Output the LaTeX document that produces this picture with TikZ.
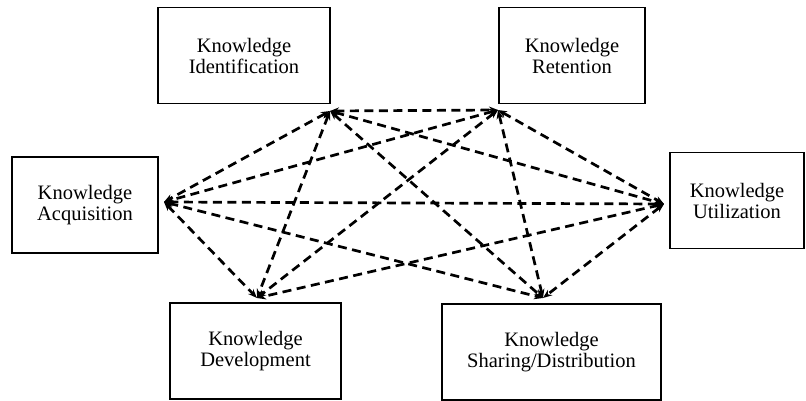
\documentclass[tikz,border=0pt]{standalone}
\usepackage{fontspec}
\setmainfont{Liberation Serif}
\usepackage{tikz}
\usetikzlibrary{arrows.meta}

\begin{document}
\begin{tikzpicture}[
		x=1pt, y=-1pt,
		box/.style={
			draw,
			line width=1.8pt,
			inner sep=0pt,
			minimum height=96pt,
			align=center,
			font=\fontsize{20.5}{21}\selectfont
		},
		arrow/.style={{Stealth[length=9pt,width=7pt]}-{Stealth[length=9pt,width=7pt]}, line width=2.7pt, dash pattern=on 9pt off 5.5pt}
		]
		
		\useasboundingbox (0,0) rectangle (806,401);
		
		\node[box, minimum width=172pt] (ident) at (244,55.5) {Knowledge\\Identification};
		\node[box, minimum width=146pt] (ret) at (572,55.5) {Knowledge\\Retention};
		\node[box, minimum width=146pt] (acq) at (85,205) {Knowledge\\Acquisition};
		\node[box, minimum width=134pt] (util) at (737,200.5) {Knowledge\\Utilization};
		\node[box, minimum width=171pt] (dev) at (255.5,351) {Knowledge\\Development};
		\node[box, minimum width=219pt] (share) at (551.5,352) {Knowledge\\Sharing/Distribution};
		
		% meeting points of the arrows
		\coordinate (ident-p) at (330,111);
		\coordinate (ret-p) at (498,110);
		\coordinate (acq-p) at (164,202);
		\coordinate (util-p) at (664,204);
		\coordinate (dev-p) at (257,298);
		\coordinate (share-p) at (543,298);
		
		\draw[arrow] (ident-p) -- (ret-p);
		\draw[arrow] (ident-p) -- (acq-p);
		\draw[arrow] (ident-p) -- (util-p);
		\draw[arrow] (ident-p) -- (dev-p);
		\draw[arrow] (ident-p) -- (share-p);
		\draw[arrow] (ret-p) -- (acq-p);
		\draw[arrow] (ret-p) -- (util-p);
		\draw[arrow] (ret-p) -- (dev-p);
		\draw[arrow] (ret-p) -- (share-p);
		\draw[arrow] (acq-p) -- (util-p);
		\draw[arrow] (acq-p) -- (dev-p);
		\draw[arrow] (acq-p) -- (share-p);
		\draw[arrow] (util-p) -- (dev-p);
		\draw[arrow] (util-p) -- (share-p);
		
	\end{tikzpicture}
\end{document}
